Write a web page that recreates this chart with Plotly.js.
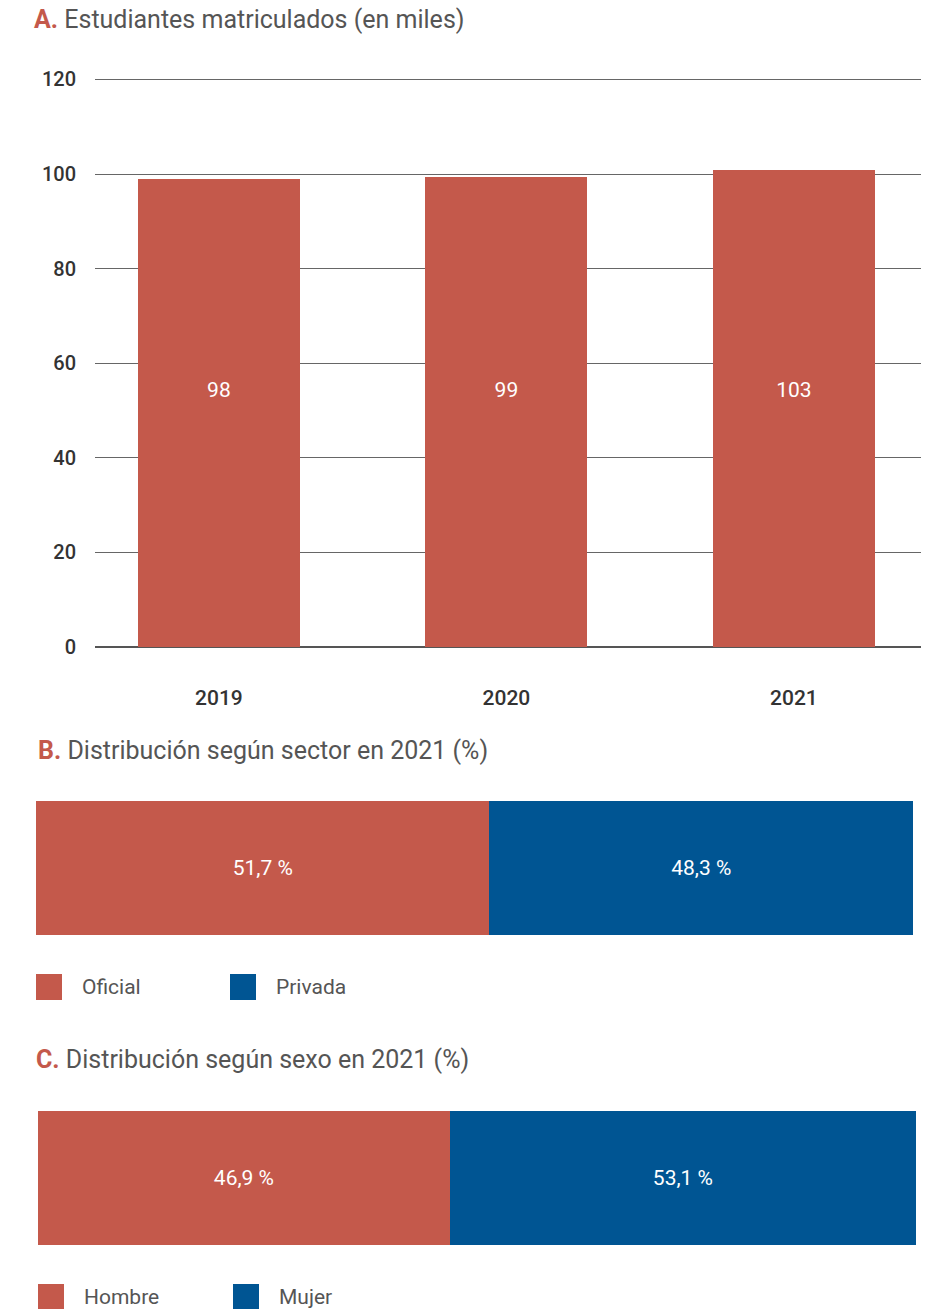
<!DOCTYPE html>
<html><head><meta charset="utf-8">
<script src="https://cdn.plot.ly/plotly-3.0.1.min.js"></script>
<style>html,body{margin:0;padding:0;background:#fff}#chart{width:940px;height:1309px}</style>
</head><body><div id="chart"></div>
<script>
// Panel A
const years = ['2019', '2020', '2021'];
const enrolled = [98.9, 99.3, 100.8];
const enrolledLabels = ['98', '99', '103'];
const yTicks = [0, 20, 40, 60, 80, 100, 120];
// Panel B
const sectorNames = ['Oficial', 'Privada'];
const sectorValues = [51.7, 48.3];
// Panel C
const sexNames = ['Hombre', 'Mujer'];
const sexValues = [46.9, 53.1];

const RED = '#c4594b', BLUE = '#005593';
const colors = [RED, BLUE];
const FONT = 'Roboto, "Open Sans", sans-serif';
const W = 940, H = 1309;
const px = x => x / W, py = y => 1 - y / H;
const fmt = v => v.toFixed(1).replace('.', ',') + ' %';
const LABEL_LEVEL = 54; // vertical level of the value labels in panel A

const traces = [];
traces.push({
  type: 'bar', x: years, y: enrolled, xaxis: 'x', yaxis: 'y',
  marker: {color: RED}, width: 0.563, showlegend: false, hoverinfo: 'none'
});
traces.push({
  type: 'scatter', mode: 'text', x: years, y: years.map(() => LABEL_LEVEL), xaxis: 'x', yaxis: 'y',
  text: enrolledLabels, textposition: 'middle center',
  textfont: {color: '#fff', size: 21, family: FONT}, showlegend: false, hoverinfo: 'none'
});
sectorNames.forEach((n, i) => traces.push({
  type: 'bar', orientation: 'h', y: ['s'], x: [sectorValues[i]], xaxis: 'x2', yaxis: 'y2',
  name: n, marker: {color: colors[i]}, width: 1,
  text: [fmt(sectorValues[i])], textposition: 'inside', insidetextanchor: 'middle',
  textfont: {color: '#fff', size: 21, family: FONT}, showlegend: false, hoverinfo: 'none'
}));
sexNames.forEach((n, i) => traces.push({
  type: 'bar', orientation: 'h', y: ['s'], x: [sexValues[i]], xaxis: 'x3', yaxis: 'y3',
  name: n, marker: {color: colors[i]}, width: 1,
  text: [fmt(sexValues[i])], textposition: 'inside', insidetextanchor: 'middle',
  textfont: {color: '#fff', size: 21, family: FONT}, showlegend: false, hoverinfo: 'none'
}));

const annotations = [];
const shapes = [];
function title(letter, txt, x, y) {
  annotations.push({xref: 'paper', yref: 'paper', x: px(x), y: py(y), xanchor: 'left', yanchor: 'middle',
    showarrow: false, align: 'left',
    text: '<b><span style="color:' + RED + '">' + letter + '.</span></b> ' + txt,
    font: {family: FONT, size: 25, color: '#555'}});
}
title('A', 'Estudiantes matriculados (en miles)', 32, 20);
title('B', 'Distribución según sector en 2021 (%)', 36, 750);
title('C', 'Distribución según sexo en 2021 (%)', 34, 1059);

function legend(names, xs, y) {
  names.forEach((n, i) => {
    shapes.push({type: 'rect', xref: 'paper', yref: 'paper', x0: px(xs[i]), x1: px(xs[i] + 26),
      y0: py(y + 13), y1: py(y - 13), fillcolor: colors[i], line: {width: 0}});
    annotations.push({xref: 'paper', yref: 'paper', x: px(xs[i] + 44), y: py(y), xanchor: 'left', yanchor: 'middle',
      showarrow: false, text: n, font: {family: FONT, size: 21, color: '#555'}});
  });
}
legend(sectorNames, [36, 230], 987);
legend(sexNames, [38, 233], 1297);

const layout = {
  width: W, height: H, margin: {l: 0, r: 0, t: 0, b: 0},
  paper_bgcolor: '#fff', plot_bgcolor: 'rgba(0,0,0,0)',
  barmode: 'stack', showlegend: false,
  font: {family: FONT, color: '#333'},
  xaxis: {domain: [px(95), px(921)], range: [-0.431, 2.442], type: 'category', showgrid: false,
    showline: false, ticks: '', ticklabelstandoff: 36,
    tickfont: {size: 21, color: '#333', family: FONT, weight: 500}, fixedrange: true},
  yaxis: {domain: [py(647), py(77.1)], range: [0, 120.5], tickvals: yTicks, showgrid: true,
    gridcolor: '#666', gridwidth: 1, zeroline: true, zerolinecolor: '#555', zerolinewidth: 1.3,
    ticks: '', ticklabelstandoff: 18, tickfont: {size: 20, color: '#333', family: FONT, weight: 500}, fixedrange: true},
  xaxis2: {domain: [px(36), px(913)], range: [0, 100], anchor: 'y2', visible: false},
  yaxis2: {domain: [py(935), py(801)], range: [-0.5, 0.5], anchor: 'x2', visible: false, type: 'category'},
  xaxis3: {domain: [px(38), px(916)], range: [0, 100], anchor: 'y3', visible: false},
  yaxis3: {domain: [py(1245), py(1111)], range: [-0.5, 0.5], anchor: 'x3', visible: false, type: 'category'},
  annotations: annotations, shapes: shapes
};
Plotly.newPlot('chart', traces, layout, {staticPlot: true, displayModeBar: false});
</script></body></html>
